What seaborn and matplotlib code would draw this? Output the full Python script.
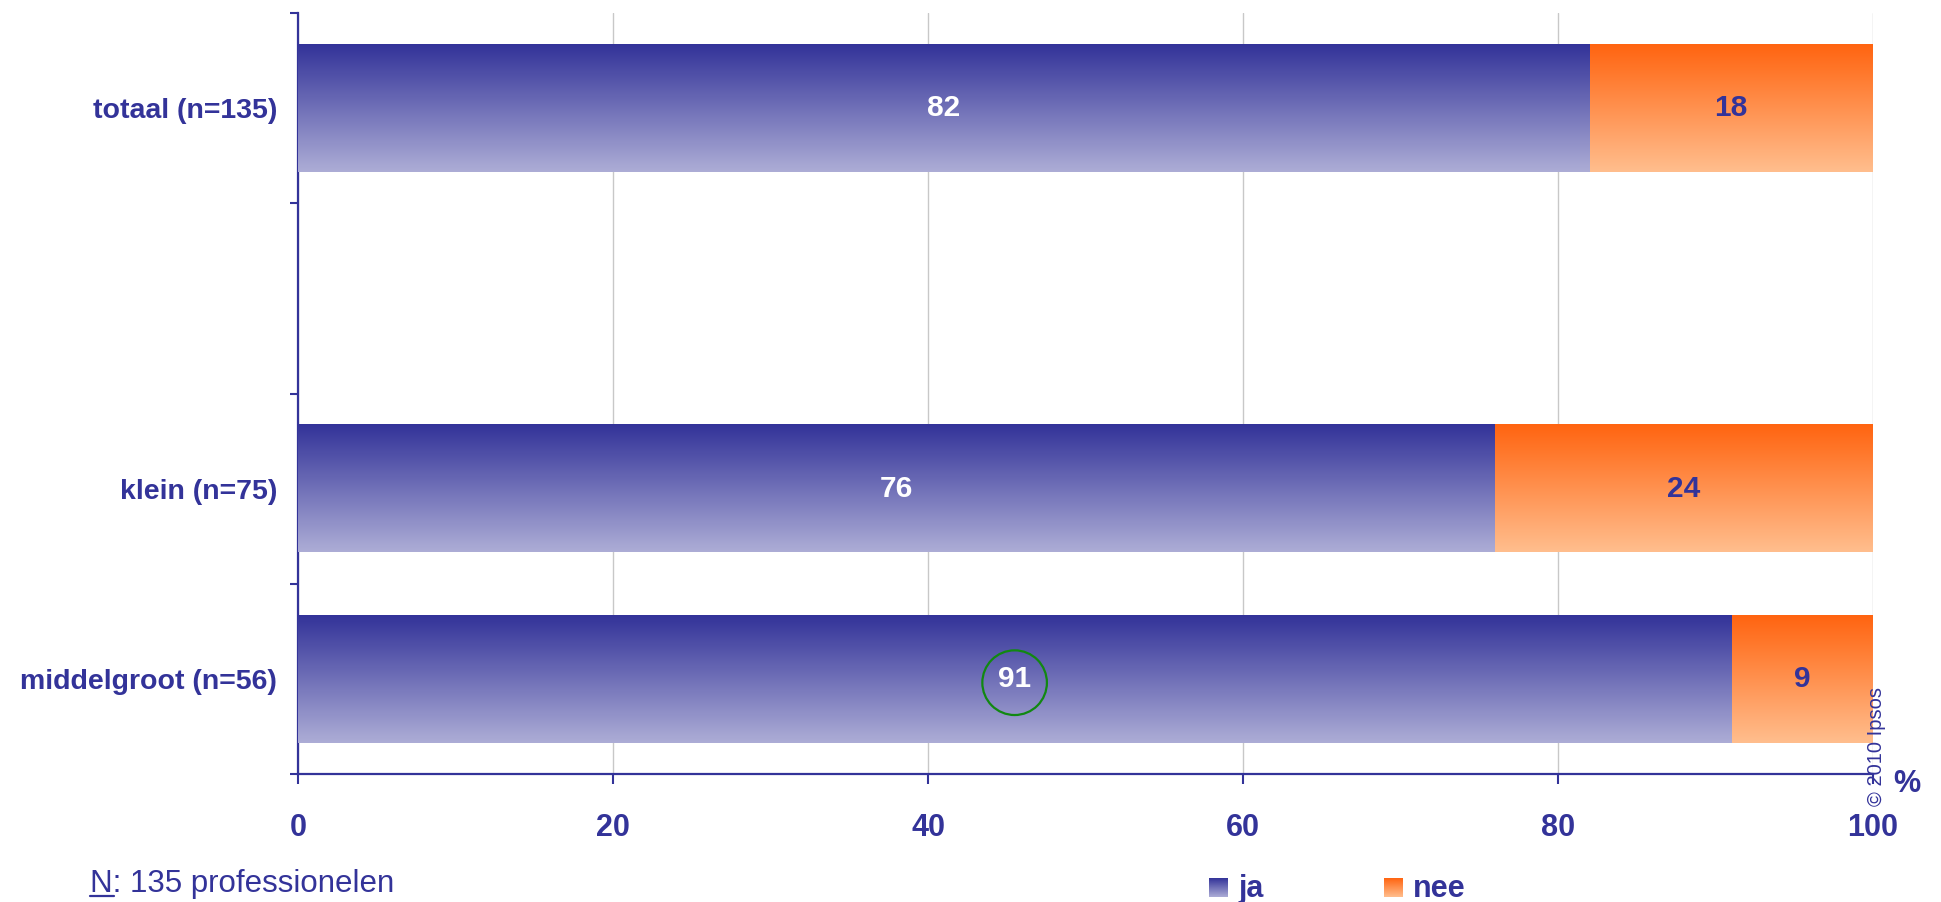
import numpy as np
import pandas as pd
import matplotlib.pyplot as plt
import seaborn as sns
from matplotlib.patches import Ellipse
from matplotlib.lines import Line2D
from matplotlib.colors import LinearSegmentedColormap

groepen = ['totaal (n=135)', '', 'klein (n=75)', 'middelgroot (n=56)']
ja = [82, 0, 76, 91]
nee = [18, 0, 24, 9]
xticks = [0, 20, 40, 60, 80, 100]

sns.set_style('white')
plt.rcParams['font.family'] = ['Liberation Sans', 'DejaVu Sans']

blauw = '#333399'
ja_top, ja_bottom = '#333399', '#ADADD6'
nee_top, nee_bottom = '#FF6410', '#FFBE8E'

df = pd.DataFrame({'groep': groepen, 'ja': ja, 'nee': nee})
df['totaal'] = df.ja + df.nee


def verloop(top, bottom, n=256):
    cmap = LinearSegmentedColormap.from_list('v', [top, bottom])
    return cmap(np.linspace(0, 1, n)).reshape(n, 1, 4)


#%%
fig = plt.figure(figsize=(19.41, 9.02), dpi=100)
ax = fig.add_axes([298 / 1941, 1 - 774 / 902, 1575 / 1941, 761 / 902])

sns.barplot(data=df, x='totaal', y='groep', order=groepen, color=nee_top,
            width=0.67, orient='h', errorbar=None, ax=ax)
n_nee = len(ax.patches)
sns.barplot(data=df, x='ja', y='groep', order=groepen, color=ja_top,
            width=0.67, orient='h', errorbar=None, ax=ax)

# gradient fills on top of the seaborn bars
for i, p in enumerate(ax.patches):
    p.set_visible(False)
    if p.get_width() == 0:
        continue
    if i < n_nee:
        grad, z = verloop(nee_top, nee_bottom), 2
    else:
        grad, z = verloop(ja_top, ja_bottom), 3
    x0, y0, w, h = p.get_x(), p.get_y(), p.get_width(), p.get_height()
    ax.imshow(grad, extent=(x0, x0 + w, y0 + h, y0), origin='upper',
              aspect='auto', interpolation='bilinear', zorder=z)

for i in range(len(groepen)):
    if ja[i]:
        ax.text(ja[i] / 2, i, str(ja[i]), ha='center', va='center',
                fontsize=21.5, weight='bold', color='white', zorder=5)
    if nee[i]:
        ax.text(ja[i] + nee[i] / 2, i, str(nee[i]), ha='center', va='center',
                fontsize=21.5, weight='bold', color=blauw, zorder=5)

ax.add_patch(Ellipse((45.5, 3.02), width=4.1, height=0.34, fill=False,
                     edgecolor='#118811', lw=1.6, zorder=6))

ax.set_xlim(0, 100)
ax.set_ylim(3.5, -0.5)
ax.set_xlabel('')
ax.set_ylabel('')
ax.set_xticks(xticks)
ax.set_xticklabels([str(t) for t in xticks], fontsize=22, weight='bold', color=blauw)
ax.xaxis.grid(True, color='#C8C8C8', lw=1)
ax.yaxis.grid(False)
ax.set_axisbelow(True)

ax.set_yticks([-0.5, 0.5, 1.5, 2.5, 3.5])
ax.set_yticklabels([])
ax.set_yticks(range(len(groepen)), minor=True)
ax.set_yticklabels(groepen, minor=True, fontsize=20.5, weight='bold', color=blauw)

ax.tick_params(axis='x', bottom=True, direction='out', length=7, width=1.5,
               color=blauw, pad=21)
ax.tick_params(axis='y', which='major', left=True, direction='out', length=6,
               width=1.5, color=blauw)
ax.tick_params(axis='y', which='minor', left=True, length=0, pad=15)

sns.despine(ax=ax)
for s in ['left', 'bottom']:
    ax.spines[s].set_color(blauw)
    ax.spines[s].set_linewidth(1.6)

#%%
fig.text(1907 / 1941, 1 - 784 / 902, '%', ha='center', va='center',
         fontsize=22, weight='bold', color=blauw)
fig.text(1877 / 1941, 1 - 747 / 902, '© 2010 Ipsos', rotation=90,
         ha='center', va='center', fontsize=14.5, color=blauw)

fig.text(90 / 1941, 1 - 892 / 902, 'N: 135 professionelen', ha='left',
         va='baseline', fontsize=22.5, color=blauw)
fig.add_artist(Line2D([90 / 1941, 114 / 1941], [1 - 896 / 902] * 2,
                      color=blauw, lw=1.6))

# legend with gradient squares
for x_sq, x_txt, kleur, label in [(1209, 1238, (ja_top, ja_bottom), 'ja'),
                                  (1384, 1413, (nee_top, nee_bottom), 'nee')]:
    lax = fig.add_axes([x_sq / 1941, 1 - 897 / 902, 19 / 1941, 19 / 902])
    lax.imshow(verloop(*kleur), aspect='auto', interpolation='bilinear')
    lax.axis('off')
    fig.text(x_txt / 1941, 1 - 897 / 902, label, ha='left', va='baseline',
             fontsize=22, weight='bold', color=blauw)

fig.savefig('out.png', dpi=100)
